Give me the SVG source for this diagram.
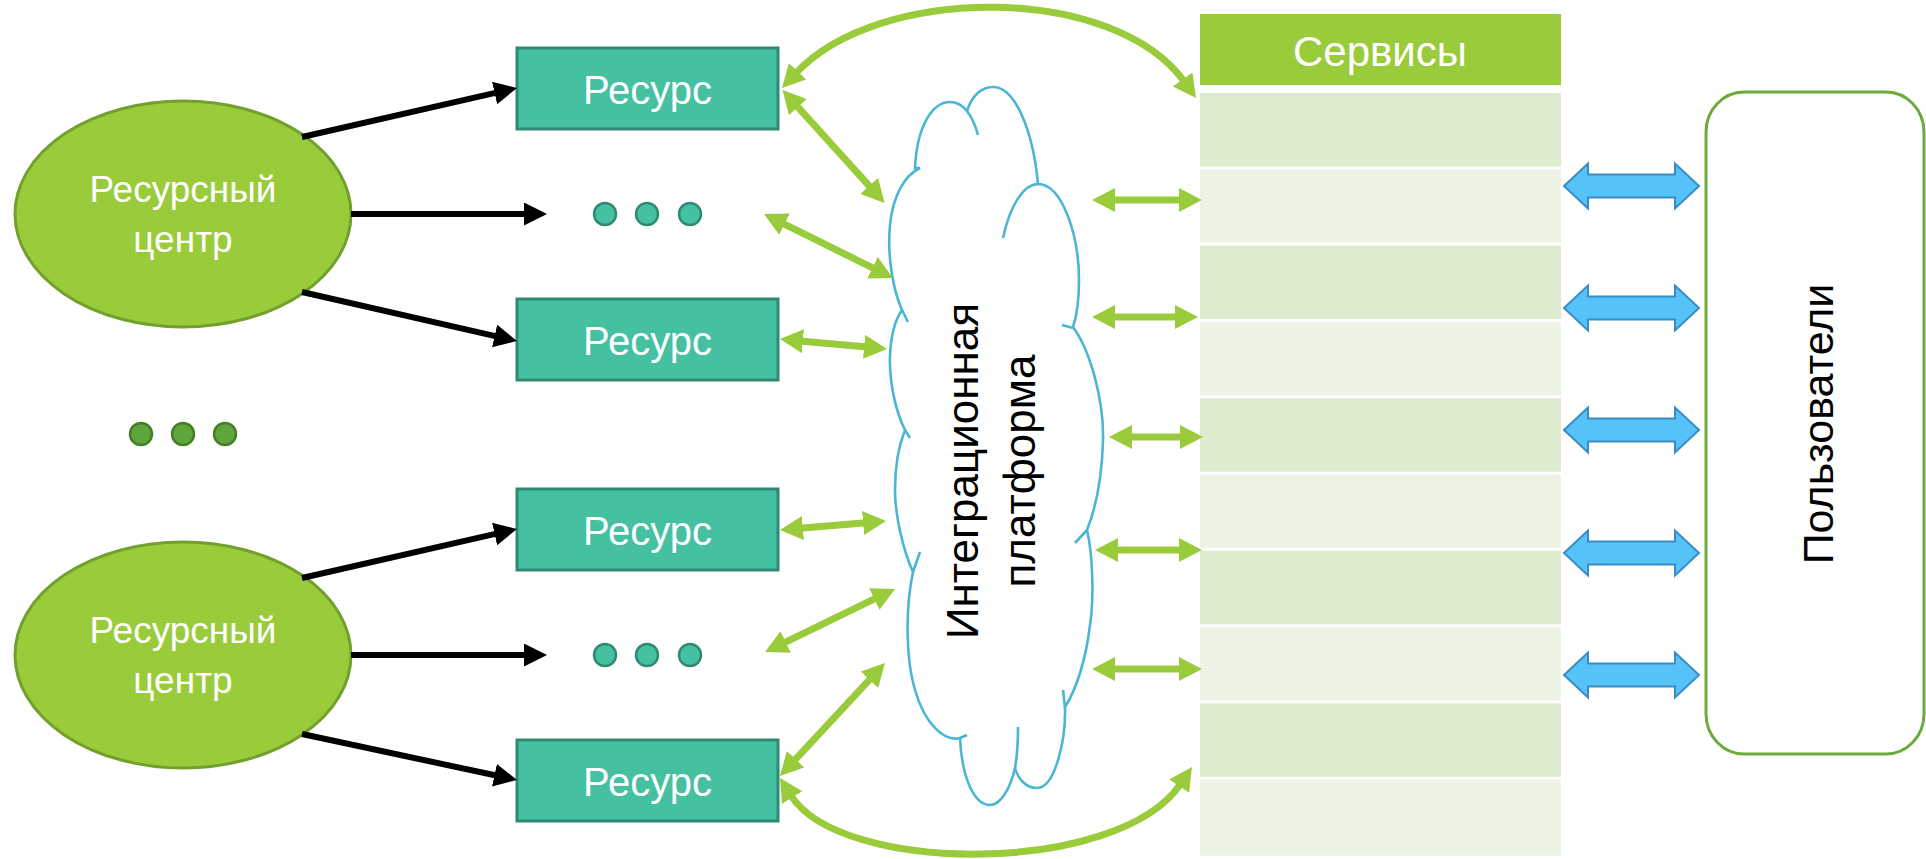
<svg xmlns="http://www.w3.org/2000/svg" width="1926" height="859" viewBox="0 0 1926 859">
  <style>
    .center { fill: #9acb3b; stroke: #72a02c; stroke-width: 3; }
    .res { fill: #45c1a1; stroke: #2e8a73; stroke-width: 3; }
    .tdot { fill: #45c1a1; stroke: #2e8a73; stroke-width: 2.5; }
    .gdot { fill: #5ea53b; stroke: #447f25; stroke-width: 2.5; }
    .wt { fill: #ffffff; font-family: "Liberation Sans", Arial, sans-serif; text-anchor: middle; }
    .bt { fill: #000000; font-family: "Liberation Sans", Arial, sans-serif; text-anchor: middle; }
    .row-a { fill: #dfebcf; }
    .row-b { fill: #eef4e5; }
    .cloud { fill: #ffffff; stroke: #4bb6d4; stroke-width: 2.6; stroke-linejoin: miter; }
    .stub { fill: none; stroke: #4bb6d4; stroke-width: 2.6; }
    .blk { fill: none; stroke: #000000; stroke-width: 6; marker-end: url(#head-black); }
    .grn { fill: none; stroke: #9acb3b; stroke-width: 7; marker-start: url(#head-green); marker-end: url(#head-green); }
    .blue { fill: #55c3f7; stroke: #3a8cc4; stroke-width: 2; }
  </style>
  <defs>
    <marker id="head-black" viewBox="0 0 23 23" refX="3" refY="11.5" markerWidth="23" markerHeight="23" markerUnits="userSpaceOnUse" orient="auto">
      <path d="M0,0 L23,11.5 L0,23 Z" fill="#000000"/>
    </marker>
    <marker id="head-green" viewBox="0 0 23 24" refX="3" refY="12" markerWidth="23" markerHeight="24" markerUnits="userSpaceOnUse" orient="auto-start-reverse">
      <path d="M0,0 L23,12 L0,24 Z" fill="#9acb3b"/>
    </marker>
    <path id="blue-arrow" d="M1564,0 L1588,-22.5 L1588,-11.5 L1675,-11.5 L1675,-22.5 L1699,0 L1675,22.5 L1675,11.5 L1588,11.5 L1588,22.5 Z"/>
  </defs>

  <rect width="1926" height="859" fill="#ffffff"/>

  <!-- resource centres -->
  <g id="center-1">
    <ellipse class="center" cx="183" cy="214" rx="168" ry="113"/>
    <text class="wt" x="183" y="202" font-size="37">Ресурсный</text>
    <text class="wt" x="183" y="252" font-size="37">центр</text>
  </g>
  <g id="center-2">
    <ellipse class="center" cx="183" cy="655" rx="168" ry="113"/>
    <text class="wt" x="183" y="643" font-size="37">Ресурсный</text>
    <text class="wt" x="183" y="693" font-size="37">центр</text>
  </g>
  <g id="centers-more">
    <circle class="gdot" cx="141" cy="434" r="11"/>
    <circle class="gdot" cx="183" cy="434" r="11"/>
    <circle class="gdot" cx="225" cy="434" r="11"/>
  </g>

  <!-- resources -->
  <g id="resource-1">
    <rect class="res" x="517" y="48" width="261" height="81"/>
    <text class="wt" x="647.5" y="104" font-size="40">Ресурс</text>
  </g>
  <g id="resources-more-1">
    <circle class="tdot" cx="605" cy="214" r="11"/>
    <circle class="tdot" cx="647" cy="214" r="11"/>
    <circle class="tdot" cx="690" cy="214" r="11"/>
  </g>
  <g id="resource-2">
    <rect class="res" x="517" y="299" width="261" height="81"/>
    <text class="wt" x="647.5" y="355" font-size="40">Ресурс</text>
  </g>
  <g id="resource-3">
    <rect class="res" x="517" y="489" width="261" height="81"/>
    <text class="wt" x="647.5" y="545" font-size="40">Ресурс</text>
  </g>
  <g id="resources-more-2">
    <circle class="tdot" cx="605" cy="655" r="11"/>
    <circle class="tdot" cx="647" cy="655" r="11"/>
    <circle class="tdot" cx="690" cy="655" r="11"/>
  </g>
  <g id="resource-4">
    <rect class="res" x="517" y="740" width="261" height="81"/>
    <text class="wt" x="647.5" y="796" font-size="40">Ресурс</text>
  </g>

  <!-- integration platform cloud -->
  <g id="platform">
    <path class="cloud" d="M915,168 C917,125 933,102 950,102 C958,102 963,106 967,111 C972,95 982,87 993,87 C1015,87 1033,130 1038,184 C1062,184 1079,235 1079,280 C1079,300 1077,315 1073,327 C1090,350 1104,400 1103,440 C1102,480 1095,510 1087,530 C1093,555 1094,600 1090,625 C1086,660 1076,690 1065,707 C1066,740 1055,788 1037,788 C1025,788 1018,778 1015,768 C1010,790 1000,805 990,805 C975,805 962,780 960,738 C945,742 925,725 915,690 C906,660 905,610 913,572 C903,550 895,515 895,490 C895,465 899,445 905,430 C895,410 889,380 890,355 C891,335 895,320 902,310 C893,290 887,255 890,225 C893,195 905,175 920,168 Z"/>
    <path class="stub" d="M967,111 Q974,120 978,135 M1003,238 C1010,205 1024,184 1038,184 M1062,325 L1073,328 M1087,530 L1075,543 M1063,690 L1065,708 M1018,727 C1018,745 1017,757 1015,768 M960,738 L967,735 M913,572 L920,552 M905,430 L910,438 M902,310 L908,322"/>
    <text class="bt" font-size="44" transform="translate(978,471) rotate(-90)">Интеграционная</text>
    <text class="bt" font-size="44" transform="translate(1035,471) rotate(-90)">платформа</text>
  </g>

  <!-- services column -->
  <g id="services">
    <rect x="1200" y="14" width="361" height="71" fill="#9acb3b"/>
    <text class="wt" x="1380" y="66" font-size="42">Сервисы</text>
    <rect class="row-a" x="1200" y="93" width="361" height="73.5"/>
    <rect class="row-b" x="1200" y="169.3" width="361" height="73.5"/>
    <rect class="row-a" x="1200" y="245.6" width="361" height="73.5"/>
    <rect class="row-b" x="1200" y="321.9" width="361" height="73.5"/>
    <rect class="row-a" x="1200" y="398.2" width="361" height="73.5"/>
    <rect class="row-b" x="1200" y="474.5" width="361" height="73.5"/>
    <rect class="row-a" x="1200" y="550.8" width="361" height="73.5"/>
    <rect class="row-b" x="1200" y="627.1" width="361" height="73.5"/>
    <rect class="row-a" x="1200" y="703.4" width="361" height="73.5"/>
    <rect class="row-b" x="1200" y="779.7" width="361" height="76"/>
  </g>

  <!-- users -->
  <g id="users">
    <rect x="1706" y="92" width="218" height="662" rx="38" ry="40" fill="#ffffff" stroke="#6aab3c" stroke-width="3"/>
    <text class="bt" font-size="43" transform="translate(1833,424) rotate(-90)">Пользователи</text>
  </g>

  <g id="connectors">
    <!-- centre to resources -->
    <line class="blk" x1="302" y1="137" x2="497.5" y2="92.4"/>
    <line class="blk" x1="351" y1="214" x2="527" y2="214"/>
    <line class="blk" x1="302" y1="292" x2="497.5" y2="336.6"/>
    <line class="blk" x1="302" y1="578" x2="497.5" y2="533.4"/>
    <line class="blk" x1="351" y1="655" x2="527" y2="655"/>
    <line class="blk" x1="302" y1="734" x2="497.4" y2="775.8"/>

    <!-- resources to platform -->
    <path class="grn" d="M795.6,73.4 C879,-16.3 1114,-16.3 1184.4,81.8"/>
    <line class="grn" x1="795.9" y1="104.8" x2="871.2" y2="188.2"/>
    <line class="grn" x1="781.9" y1="222.9" x2="875.1" y2="269.1"/>
    <line class="grn" x1="799.9" y1="340.9" x2="867.1" y2="347.1"/>
    <line class="grn" x1="799.9" y1="528.3" x2="866.1" y2="522.7"/>
    <line class="grn" x1="783" y1="643.3" x2="877" y2="597.7"/>
    <line class="grn" x1="793.6" y1="761.4" x2="871.4" y2="677.6"/>
    <path class="grn" d="M790.6,795 C841,875.7 1119,875.7 1180.8,783.6"/>

    <!-- platform to services -->
    <line class="grn" x1="1112" y1="200" x2="1182" y2="200"/>
    <line class="grn" x1="1112" y1="317" x2="1178" y2="317"/>
    <line class="grn" x1="1129" y1="437" x2="1183" y2="437"/>
    <line class="grn" x1="1115" y1="550" x2="1182" y2="550"/>
    <line class="grn" x1="1112" y1="669" x2="1182" y2="669"/>

    <!-- services to users -->
    <use href="#blue-arrow" class="blue" transform="translate(0,186)"/>
    <use href="#blue-arrow" class="blue" transform="translate(0,308)"/>
    <use href="#blue-arrow" class="blue" transform="translate(0,430)"/>
    <use href="#blue-arrow" class="blue" transform="translate(0,553)"/>
    <use href="#blue-arrow" class="blue" transform="translate(0,675)"/>
  </g>
</svg>
